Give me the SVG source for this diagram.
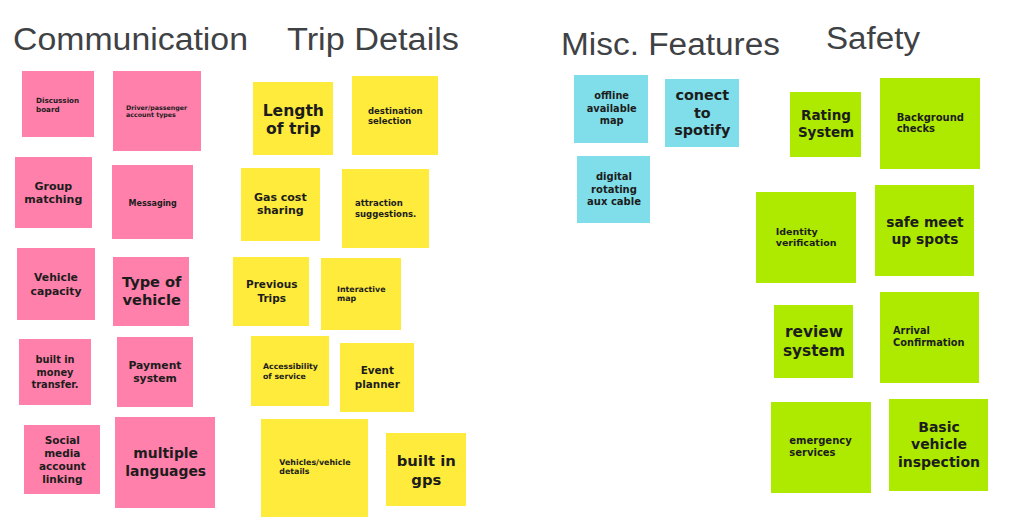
<svg xmlns="http://www.w3.org/2000/svg" width="1013" height="522" viewBox="0 0 1013 522">
<style>
.h{font-family:"Liberation Sans",Arial,sans-serif;font-size:31px;fill:#3f4245}
.t{font-family:"DejaVu Sans",Verdana,sans-serif;font-weight:700;fill:#1c1c1c}
.c{text-anchor:middle}
.p{fill:#ff80ab}
.y{fill:#ffeb3b}
.b{fill:#80deea}
.g{fill:#aeea00}
</style>
<rect width="1013" height="522" fill="#ffffff"/>
<g id="headers">
<text class="h" x="13" y="50" textLength="235" lengthAdjust="spacingAndGlyphs">Communication</text>
<text class="h" x="287" y="50" textLength="172" lengthAdjust="spacingAndGlyphs">Trip Details</text>
<text class="h" x="561" y="55" textLength="219" lengthAdjust="spacingAndGlyphs">Misc. Features</text>
<text class="h" x="826" y="49" textLength="94" lengthAdjust="spacingAndGlyphs">Safety</text>
</g>
<g id="connectors"></g>
<!-- Communication -->
<g id="n-discussion"><rect class="p" x="22" y="71" width="72" height="66"/><text class="t" font-size="7.2" x="36" y="102.7">Discussion<tspan x="36" y="111.7">board</tspan></text></g>
<g id="n-driver"><rect class="p" x="113" y="71" width="88" height="80"/><text class="t" font-size="6.3" x="126" y="110">Driver/passenger<tspan x="126" y="116.7">account types</tspan></text></g>
<g id="n-group"><rect class="p" x="15" y="157" width="77" height="71"/><text class="t c" font-size="11" x="53.3" y="190">Group<tspan x="53.3" y="202.7">matching</tspan></text></g>
<g id="n-messaging"><rect class="p" x="112" y="165" width="81" height="74"/><text class="t c" font-size="8" x="152.7" y="205.7">Messaging</text></g>
<g id="n-capacity"><rect class="p" x="17" y="248" width="78" height="72"/><text class="t c" font-size="10.8" x="56" y="280.7">Vehicle<tspan x="56" y="294.7">capacity</tspan></text></g>
<g id="n-type"><rect class="p" x="113" y="257" width="76" height="69"/><text class="t c" font-size="14.6" x="151.7" y="287.3">Type of<tspan x="151.7" y="305.3">vehicle</tspan></text></g>
<g id="n-money"><rect class="p" x="19" y="339" width="72" height="66"/><text class="t c" font-size="9.8" x="55" y="363.3">built in<tspan x="55" y="375.7">money</tspan><tspan x="55" y="387.7">transfer.</tspan></text></g>
<g id="n-payment"><rect class="p" x="117" y="337" width="76" height="70"/><text class="t c" font-size="10.8" x="155" y="369.3">Payment<tspan x="155" y="381.7">system</tspan></text></g>
<g id="n-social"><rect class="p" x="24" y="425" width="76" height="69"/><text class="t c" font-size="10.5" x="62.3" y="444">Social<tspan x="62.3" y="456.7">media</tspan><tspan x="62.3" y="470">account</tspan><tspan x="62.3" y="482.7">linking</tspan></text></g>
<g id="n-languages"><rect class="p" x="115" y="417" width="100" height="91"/><text class="t c" font-size="13.9" x="165.7" y="458.3">multiple<tspan x="165.7" y="475.7">languages</tspan></text></g>
<!-- Trip Details -->
<g id="n-length"><rect class="y" x="253" y="82" width="80" height="73"/><text class="t c" font-size="15.6" x="293.3" y="115.7">Length<tspan x="293.3" y="134">of trip</tspan></text></g>
<g id="n-destination"><rect class="y" x="352" y="76" width="86" height="79"/><text class="t" font-size="8.5" x="368" y="114.3">destination<tspan x="368" y="124.3">selection</tspan></text></g>
<g id="n-gas"><rect class="y" x="241" y="168" width="79" height="73"/><text class="t c" font-size="11" x="280.3" y="200.7">Gas cost<tspan x="280.3" y="214.3">sharing</tspan></text></g>
<g id="n-attraction"><rect class="y" x="342" y="169" width="87" height="79"/><text class="t" font-size="8.5" x="355" y="205.7">attraction<tspan x="355" y="216.7">suggestions.</tspan></text></g>
<g id="n-previous"><rect class="y" x="233" y="257" width="76" height="69"/><text class="t c" font-size="10.5" x="271.7" y="287.7">Previous<tspan x="271.7" y="301.7">Trips</tspan></text></g>
<g id="n-interactive"><rect class="y" x="321" y="258" width="80" height="72"/><text class="t" font-size="7.9" x="337" y="291.7">Interactive<tspan x="337" y="301">map</tspan></text></g>
<g id="n-access"><rect class="y" x="251" y="336" width="78" height="70"/><text class="t" font-size="7.8" x="263" y="369.3">Accessibility<tspan x="263" y="379">of service</tspan></text></g>
<g id="n-event"><rect class="y" x="340" y="343" width="74" height="69"/><text class="t c" font-size="10.4" x="377.3" y="374.3">Event<tspan x="377.3" y="387.7">planner</tspan></text></g>
<g id="n-vehicles"><rect class="y" x="261" y="419" width="107" height="98"/><text class="t" font-size="7.9" x="279.3" y="465">Vehicles/vehicle<tspan x="279.3" y="474">details</tspan></text></g>
<g id="n-gps"><rect class="y" x="386" y="433" width="80" height="73"/><text class="t c" font-size="14.8" x="426.3" y="466">built in<tspan x="426.3" y="485">gps</tspan></text></g>
<!-- Misc -->
<g id="n-offline"><rect class="b" x="574" y="75" width="74" height="68"/><text class="t c" font-size="9.8" x="611.7" y="99.3">offline<tspan x="611.7" y="111.7">available</tspan><tspan x="611.7" y="124.3">map</tspan></text></g>
<g id="n-spotify"><rect class="b" x="665" y="79" width="74" height="68"/><text class="t c" font-size="14.4" x="702.3" y="100">conect<tspan x="702.3" y="117.7">to</tspan><tspan x="702.3" y="135">spotify</tspan></text></g>
<g id="n-aux"><rect class="b" x="577" y="156" width="73" height="67"/><text class="t c" font-size="10" x="614" y="180">digital<tspan x="614" y="192.7">rotating</tspan><tspan x="614" y="205">aux cable</tspan></text></g>
<!-- Safety -->
<g id="n-rating"><rect class="g" x="790" y="92" width="71" height="65"/><text class="t c" font-size="13.5" x="826" y="120">Rating<tspan x="826" y="137.3">System</tspan></text></g>
<g id="n-background"><rect class="g" x="880" y="78" width="100" height="91"/><text class="t" font-size="10" x="896.7" y="121">Background<tspan x="896.7" y="132.3">checks</tspan></text></g>
<g id="n-identity"><rect class="g" x="756" y="192" width="100" height="91"/><text class="t" font-size="9.5" x="775.7" y="235">Identity<tspan x="775.7" y="246">verification</tspan></text></g>
<g id="n-safe"><rect class="g" x="875" y="185" width="99" height="91"/><text class="t c" font-size="13.8" x="925" y="226.7">safe meet<tspan x="925" y="244">up spots</tspan></text></g>
<g id="n-review"><rect class="g" x="774" y="305" width="79" height="73"/><text class="t c" font-size="15.4" x="814" y="336.7">review<tspan x="814" y="356">system</tspan></text></g>
<g id="n-arrival"><rect class="g" x="880" y="292" width="99" height="91"/><text class="t" font-size="9.8" x="893" y="334">Arrival<tspan x="893" y="346">Confirmation</tspan></text></g>
<g id="n-emergency"><rect class="g" x="771" y="402" width="100" height="91"/><text class="t" font-size="10" x="789.3" y="444.3">emergency<tspan x="789.3" y="455.7">services</tspan></text></g>
<g id="n-inspection"><rect class="g" x="889" y="399" width="99" height="92"/><text class="t c" font-size="14" x="939" y="431.7">Basic<tspan x="939" y="449.3">vehicle</tspan><tspan x="939" y="466.7">inspection</tspan></text></g>
</svg>
